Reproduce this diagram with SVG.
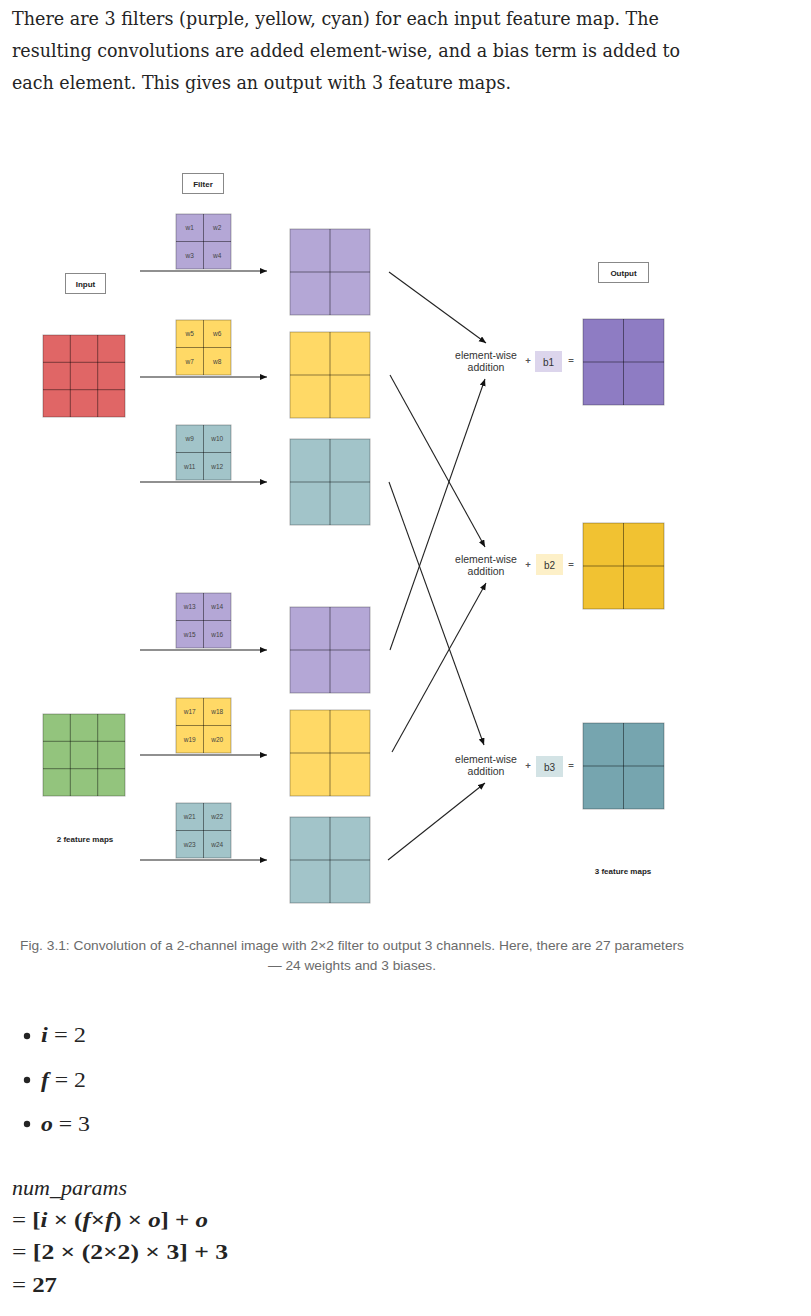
<svg xmlns="http://www.w3.org/2000/svg" width="811" height="1316" viewBox="0 0 811 1316">
<defs>
<marker id="ah" markerUnits="userSpaceOnUse" markerWidth="8" markerHeight="7" refX="7" refY="3" orient="auto"><path d="M0,0 L7,3 L0,6 z" fill="#111"/></marker>
<style>
.para{font-family:"DejaVu Serif","Liberation Serif",serif;font-size:18.5px;fill:#242424}
.cap{font-family:"Liberation Sans",sans-serif;font-size:13.5px;fill:#6b6b6b}
.math{font-family:"Liberation Serif",serif;font-size:21px;fill:#242424}
.lb{font-family:"Liberation Sans",sans-serif;font-size:8px;font-weight:bold;fill:#222;text-anchor:middle}
.box{fill:#fff;stroke:#888;stroke-width:1}
.w{font-family:"Liberation Sans",sans-serif;font-size:6.5px;fill:#444;text-anchor:middle}
.g{stroke:#000;stroke-opacity:0.45;stroke-width:1}
.ob{stroke:#000;stroke-opacity:0.3;stroke-width:1}
.ew{font-family:"Liberation Sans",sans-serif;font-size:10.5px;fill:#333;text-anchor:middle}
.op{font-family:"Liberation Sans",sans-serif;font-size:9.5px;font-weight:bold;fill:#555;text-anchor:middle}
.b{font-family:"Liberation Sans",sans-serif;font-size:10px;fill:#333;text-anchor:middle}
.ar{stroke:#222;stroke-width:1.1;fill:none}
.pu{fill:#b4a7d6}.ye{fill:#ffd966}.cy{fill:#a2c4c9}
</style>
</defs>
<rect width="811" height="1316" fill="#fff"/>

<g id="intro">
<text class="para" x="12" y="25" textLength="647" lengthAdjust="spacingAndGlyphs">There are 3 filters (purple, yellow, cyan) for each input feature map. The</text>
<text class="para" x="12" y="57" textLength="668" lengthAdjust="spacingAndGlyphs">resulting convolutions are added element-wise, and a bias term is added to</text>
<text class="para" x="12" y="89" textLength="499" lengthAdjust="spacingAndGlyphs">each element. This gives an output with 3 feature maps.</text>
</g>

<g id="label-filter"><rect class="box" x="182.5" y="173.5" width="41" height="20"/><text class="lb" x="203" y="186.5">Filter</text></g>
<g id="label-input"><rect class="box" x="65.5" y="273.5" width="40" height="20"/><text class="lb" x="85.5" y="286.5">Input</text></g>
<g id="label-output"><rect class="box" x="598.5" y="262.5" width="50" height="20"/><text class="lb" x="623.5" y="275.5">Output</text></g>

<g id="input-red">
<rect x="43" y="335" width="82" height="82" fill="#e06666" class="ob"/>
<path class="g" d="M70.3,335V417M97.7,335V417M43,362.3H125M43,389.7H125"/>
</g>
<g id="input-green">
<rect x="43" y="714" width="82" height="82" fill="#93c47d" class="ob"/>
<path class="g" d="M70.3,714V796M97.7,714V796M43,741.3H125M43,768.7H125"/>
</g>
<text id="label-2maps" class="lb" x="85" y="842">2 feature maps</text>

<g id="filter1" transform="translate(176,214)"><rect width="55" height="55" class="pu ob"/><path class="g" d="M27.5,0V55M0,27.5H55"/><text class="w" x="13.75" y="16">w1</text><text class="w" x="41.25" y="16">w2</text><text class="w" x="13.75" y="43.5">w3</text><text class="w" x="41.25" y="43.5">w4</text></g>
<g id="filter2" transform="translate(176,320)"><rect width="55" height="55" class="ye ob"/><path class="g" d="M27.5,0V55M0,27.5H55"/><text class="w" x="13.75" y="16">w5</text><text class="w" x="41.25" y="16">w6</text><text class="w" x="13.75" y="43.5">w7</text><text class="w" x="41.25" y="43.5">w8</text></g>
<g id="filter3" transform="translate(176,425)"><rect width="55" height="55" class="cy ob"/><path class="g" d="M27.5,0V55M0,27.5H55"/><text class="w" x="13.75" y="16">w9</text><text class="w" x="41.25" y="16">w10</text><text class="w" x="13.75" y="43.5">w11</text><text class="w" x="41.25" y="43.5">w12</text></g>
<g id="filter4" transform="translate(176,593)"><rect width="55" height="55" class="pu ob"/><path class="g" d="M27.5,0V55M0,27.5H55"/><text class="w" x="13.75" y="16">w13</text><text class="w" x="41.25" y="16">w14</text><text class="w" x="13.75" y="43.5">w15</text><text class="w" x="41.25" y="43.5">w16</text></g>
<g id="filter5" transform="translate(176,698)"><rect width="55" height="55" class="ye ob"/><path class="g" d="M27.5,0V55M0,27.5H55"/><text class="w" x="13.75" y="16">w17</text><text class="w" x="41.25" y="16">w18</text><text class="w" x="13.75" y="43.5">w19</text><text class="w" x="41.25" y="43.5">w20</text></g>
<g id="filter6" transform="translate(176,803)"><rect width="55" height="55" class="cy ob"/><path class="g" d="M27.5,0V55M0,27.5H55"/><text class="w" x="13.75" y="16">w21</text><text class="w" x="41.25" y="16">w22</text><text class="w" x="13.75" y="43.5">w23</text><text class="w" x="41.25" y="43.5">w24</text></g>

<g id="conv1" transform="translate(290,229)"><rect width="80" height="86" class="pu ob"/><path class="g" d="M40,0V86M0,43H80"/></g>
<g id="conv2" transform="translate(290,332)"><rect width="80" height="86" class="ye ob"/><path class="g" d="M40,0V86M0,43H80"/></g>
<g id="conv3" transform="translate(290,439)"><rect width="80" height="86" class="cy ob"/><path class="g" d="M40,0V86M0,43H80"/></g>
<g id="conv4" transform="translate(290,607)"><rect width="80" height="86" class="pu ob"/><path class="g" d="M40,0V86M0,43H80"/></g>
<g id="conv5" transform="translate(290,710)"><rect width="80" height="86" class="ye ob"/><path class="g" d="M40,0V86M0,43H80"/></g>
<g id="conv6" transform="translate(290,817)"><rect width="80" height="86" class="cy ob"/><path class="g" d="M40,0V86M0,43H80"/></g>

<g id="sum1">
<text class="ew" x="486" y="359">element-wise</text><text class="ew" x="486" y="371">addition</text>
<text class="op" x="528" y="364">+</text>
<rect x="535" y="351" width="27" height="21" fill="#dcd5ec"/><text class="b" x="548.5" y="365.5">b1</text>
<text class="op" x="571" y="364">=</text>
</g>
<g id="sum2">
<text class="ew" x="486" y="563">element-wise</text><text class="ew" x="486" y="575">addition</text>
<text class="op" x="528" y="568">+</text>
<rect x="536" y="554" width="27" height="21" fill="#fdf0c8"/><text class="b" x="549.5" y="568.5">b2</text>
<text class="op" x="571" y="568">=</text>
</g>
<g id="sum3">
<text class="ew" x="486" y="763">element-wise</text><text class="ew" x="486" y="775">addition</text>
<text class="op" x="528" y="769">+</text>
<rect x="536" y="756" width="27" height="21" fill="#d3e3e5"/><text class="b" x="549.5" y="770.5">b3</text>
<text class="op" x="571" y="769">=</text>
</g>

<g id="out1" transform="translate(583,319)"><rect width="81" height="86" fill="#8e7cc3" class="ob"/><path class="g" d="M40.5,0V86M0,43H81"/></g>
<g id="out2" transform="translate(583,523)"><rect width="81" height="86" fill="#f1c232" class="ob"/><path class="g" d="M40.5,0V86M0,43H81"/></g>
<g id="out3" transform="translate(583,723)"><rect width="81" height="86" fill="#76a5af" class="ob"/><path class="g" d="M40.5,0V86M0,43H81"/></g>
<text id="label-3maps" class="lb" x="623" y="874">3 feature maps</text>

<g id="connectors">
<line class="ar" x1="140" y1="271" x2="267" y2="271" marker-end="url(#ah)"/>
<line class="ar" x1="140" y1="377" x2="267" y2="377" marker-end="url(#ah)"/>
<line class="ar" x1="140" y1="482" x2="267" y2="482" marker-end="url(#ah)"/>
<line class="ar" x1="140" y1="650" x2="267" y2="650" marker-end="url(#ah)"/>
<line class="ar" x1="140" y1="755" x2="267" y2="755" marker-end="url(#ah)"/>
<line class="ar" x1="140" y1="860" x2="267" y2="860" marker-end="url(#ah)"/>
<line class="ar" x1="389" y1="272" x2="486" y2="343" marker-end="url(#ah)"/>
<line class="ar" x1="390" y1="375" x2="485" y2="547" marker-end="url(#ah)"/>
<line class="ar" x1="389" y1="482" x2="484" y2="745" marker-end="url(#ah)"/>
<line class="ar" x1="390" y1="650" x2="485" y2="379" marker-end="url(#ah)"/>
<line class="ar" x1="392" y1="752" x2="486" y2="583" marker-end="url(#ah)"/>
<line class="ar" x1="388" y1="860" x2="485" y2="783" marker-end="url(#ah)"/>
</g>

<g id="caption">
<text class="cap" x="20" y="950" textLength="664" lengthAdjust="spacingAndGlyphs">Fig. 3.1: Convolution of a 2-channel image with 2×2 filter to output 3 channels. Here, there are 27 parameters</text>
<text class="cap" x="268" y="970" textLength="168" lengthAdjust="spacingAndGlyphs">— 24 weights and 3 biases.</text>
</g>

<g id="math">
<circle cx="27" cy="1036" r="3.2" fill="#242424"/>
<text class="math" x="41" y="1042" textLength="45" lengthAdjust="spacingAndGlyphs"><tspan font-style="italic" font-weight="bold">i</tspan> = 2</text>
<circle cx="27" cy="1080" r="3.2" fill="#242424"/>
<text class="math" x="41" y="1087" textLength="45" lengthAdjust="spacingAndGlyphs"><tspan font-style="italic" font-weight="bold">f</tspan> = 2</text>
<circle cx="27" cy="1124" r="3.2" fill="#242424"/>
<text class="math" x="41" y="1131" textLength="49" lengthAdjust="spacingAndGlyphs"><tspan font-style="italic" font-weight="bold">o</tspan> = 3</text>
<text class="math" x="12" y="1195" font-style="italic" textLength="115" lengthAdjust="spacingAndGlyphs">num_params</text>
<text class="math" x="12" y="1227" textLength="196" lengthAdjust="spacingAndGlyphs">= <tspan font-weight="bold">[<tspan font-style="italic">i</tspan> × (<tspan font-style="italic">f</tspan>×<tspan font-style="italic">f</tspan>) × <tspan font-style="italic">o</tspan>] + <tspan font-style="italic">o</tspan></tspan></text>
<text class="math" x="12" y="1259" textLength="216" lengthAdjust="spacingAndGlyphs">= <tspan font-weight="bold">[2 × (2×2) × 3] + 3</tspan></text>
<text class="math" x="12" y="1292" textLength="45" lengthAdjust="spacingAndGlyphs">= <tspan font-weight="bold">27</tspan></text>
</g>
</svg>
